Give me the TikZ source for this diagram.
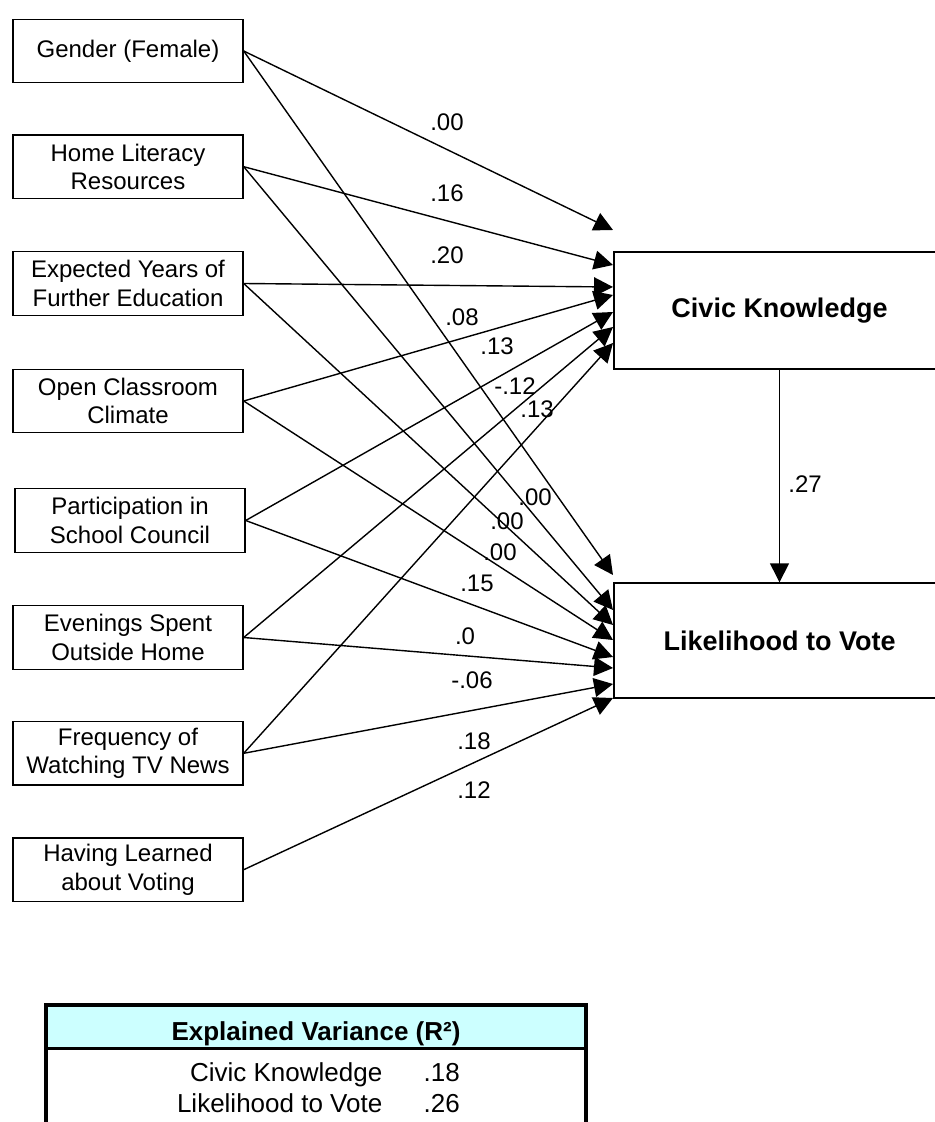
\documentclass[tikz,border=0pt]{standalone}
\usepackage{fontspec}
\setmainfont{Liberation Sans}
\usepackage{xcolor}
\usepackage{tikz}
\usetikzlibrary{arrows.meta, positioning}

\definecolor{headcyan}{RGB}{204,255,255}

\begin{document}
\begin{tikzpicture}[x=0.5pt, y=-0.5pt, line width=0.7pt,
    font=\fontsize{12}{14.2}\selectfont,
    predictor/.style={draw, rectangle, minimum width=115pt, minimum height=31.75pt, align=center, inner sep=1pt},
    outcome/.style={draw, rectangle, minimum width=165.5pt, font=\bfseries\fontsize{13.5}{15}\selectfont},
    effect/.style={-{Triangle[length=9.5pt, width=9.5pt]}},
    coef/.style={inner sep=0pt},
    cell/.style={inner sep=0pt, font=\fontsize{13}{15}\selectfont}]

\useasboundingbox (0,0) rectangle (935,1122);

% predictors
\node[predictor] (gender) at (128,51) {Gender (Female)};
\node[predictor] (homelit) at (128,166.7) {Home Literacy\\Resources};
\node[predictor] (expyears) at (128,283.5) {Expected Years of\\Further Education};
\node[predictor] (openclass) at (128,401) {Open Classroom\\Climate};
\node[predictor] (council) at (130,520.5) {Participation in\\School Council};
\node[predictor] (evenings) at (128,637.5) {Evenings Spent\\Outside Home};
\node[predictor] (tvnews) at (128,753.3) {Frequency of\\Watching TV News};
\node[predictor] (learned) at (128,869.7) {Having Learned\\about Voting};

% outcomes
\node[outcome, minimum height=58.5pt] (civic) at (779.5,310.5) {Civic Knowledge};
\node[outcome, minimum height=57.5pt] (vote) at (779.5,640.5) {Likelihood to Vote};

% arrow ends at the outcomes
\coordinate (ck1) at (613,230);
\coordinate (ck2) at (613,265);
\coordinate (ck3) at (613,287);
\coordinate (ck4) at (613,295);
\coordinate (ck5) at (613,312);
\coordinate (ck6) at (613,327);
\coordinate (ck7) at (613,343);
\coordinate (lv1) at (613,575);
\coordinate (lv2) at (613,610);
\coordinate (lv3) at (613,625);
\coordinate (lv4) at (613,640);
\coordinate (lv5) at (613,657);
\coordinate (lv6) at (613,668);
\coordinate (lv7) at (613,684);
\coordinate (lv8) at (613,698);

% paths to civic knowledge
\draw[effect] (gender.east) -- (ck1);
\draw[effect] (homelit.east) -- (ck2);
\draw[effect] (expyears.east) -- (ck3);
\draw[effect] (openclass.east) -- (ck4);
\draw[effect] (council.east) -- (ck5);
\draw[effect] (evenings.east) -- (ck6);
\draw[effect] (tvnews.east) -- (ck7);

% paths to likelihood to vote
\draw[effect] (gender.east) -- (lv1);
\draw[effect] (homelit.east) -- (lv2);
\draw[effect] (expyears.east) -- (lv3);
\draw[effect] (openclass.east) -- (lv4);
\draw[effect] (council.east) -- (lv5);
\draw[effect] (evenings.east) -- (lv6);
\draw[effect] (tvnews.east) -- (lv7);
\draw[effect] (learned.east) -- (lv8);

\draw[effect] (civic) -- (vote);

% coefficients
\node[coef] (c1) at (447,122) {.00};
\node[coef] (c2) at (447,193) {.16};
\node[coef] (c3) at (447,255) {.20};
\node[coef] (c4) at (462,317) {.08};
\node[coef] (c5) at (497,346) {.13};
\node[coef] (c6) at (515,386) {-.12};
\node[coef] (c7) at (537,409) {.13};
\node[coef] (v1) at (535,497) {.00};
\node[coef] (v2) at (507,521) {.00};
\node[coef] (v3) at (500,552) {.00};
\node[coef] (v4) at (477,583) {.15};
\node[coef] (v5) at (465,636) {.0};
\node[coef] (v6) at (472,680) {-.06};
\node[coef] (v7) at (474,741) {.18};
\node[coef] (v8) at (474,790) {.12};
\node[coef] (ckv) at (805,484) {.27};

% explained variance table
\fill[headcyan] (46,1005) rectangle (586,1048);
\draw[line width=2.3pt] (46,1005) -- (586,1005);
\draw[line width=1.3pt] (46,1048.5) -- (586,1048.5);
\draw[line width=2.3pt] (46,1003) -- (46,1130);
\draw[line width=2.3pt] (586,1003) -- (586,1130);
\node[cell, anchor=base, font=\bfseries\fontsize{13}{15}\selectfont] (rhead) at (316,1040) {Explained Variance (R²)};
\node[cell, anchor=base east] (rck) at (383,1081.7) {Civic Knowledge};
\node[cell, anchor=base west] (rckv) at (423,1081.7) {.18};
\node[cell, anchor=base east] (rlv) at (383,1112.7) {Likelihood to Vote};
\node[cell, anchor=base west] (rlvv) at (423,1112.7) {.26};
\end{tikzpicture}
\end{document}
